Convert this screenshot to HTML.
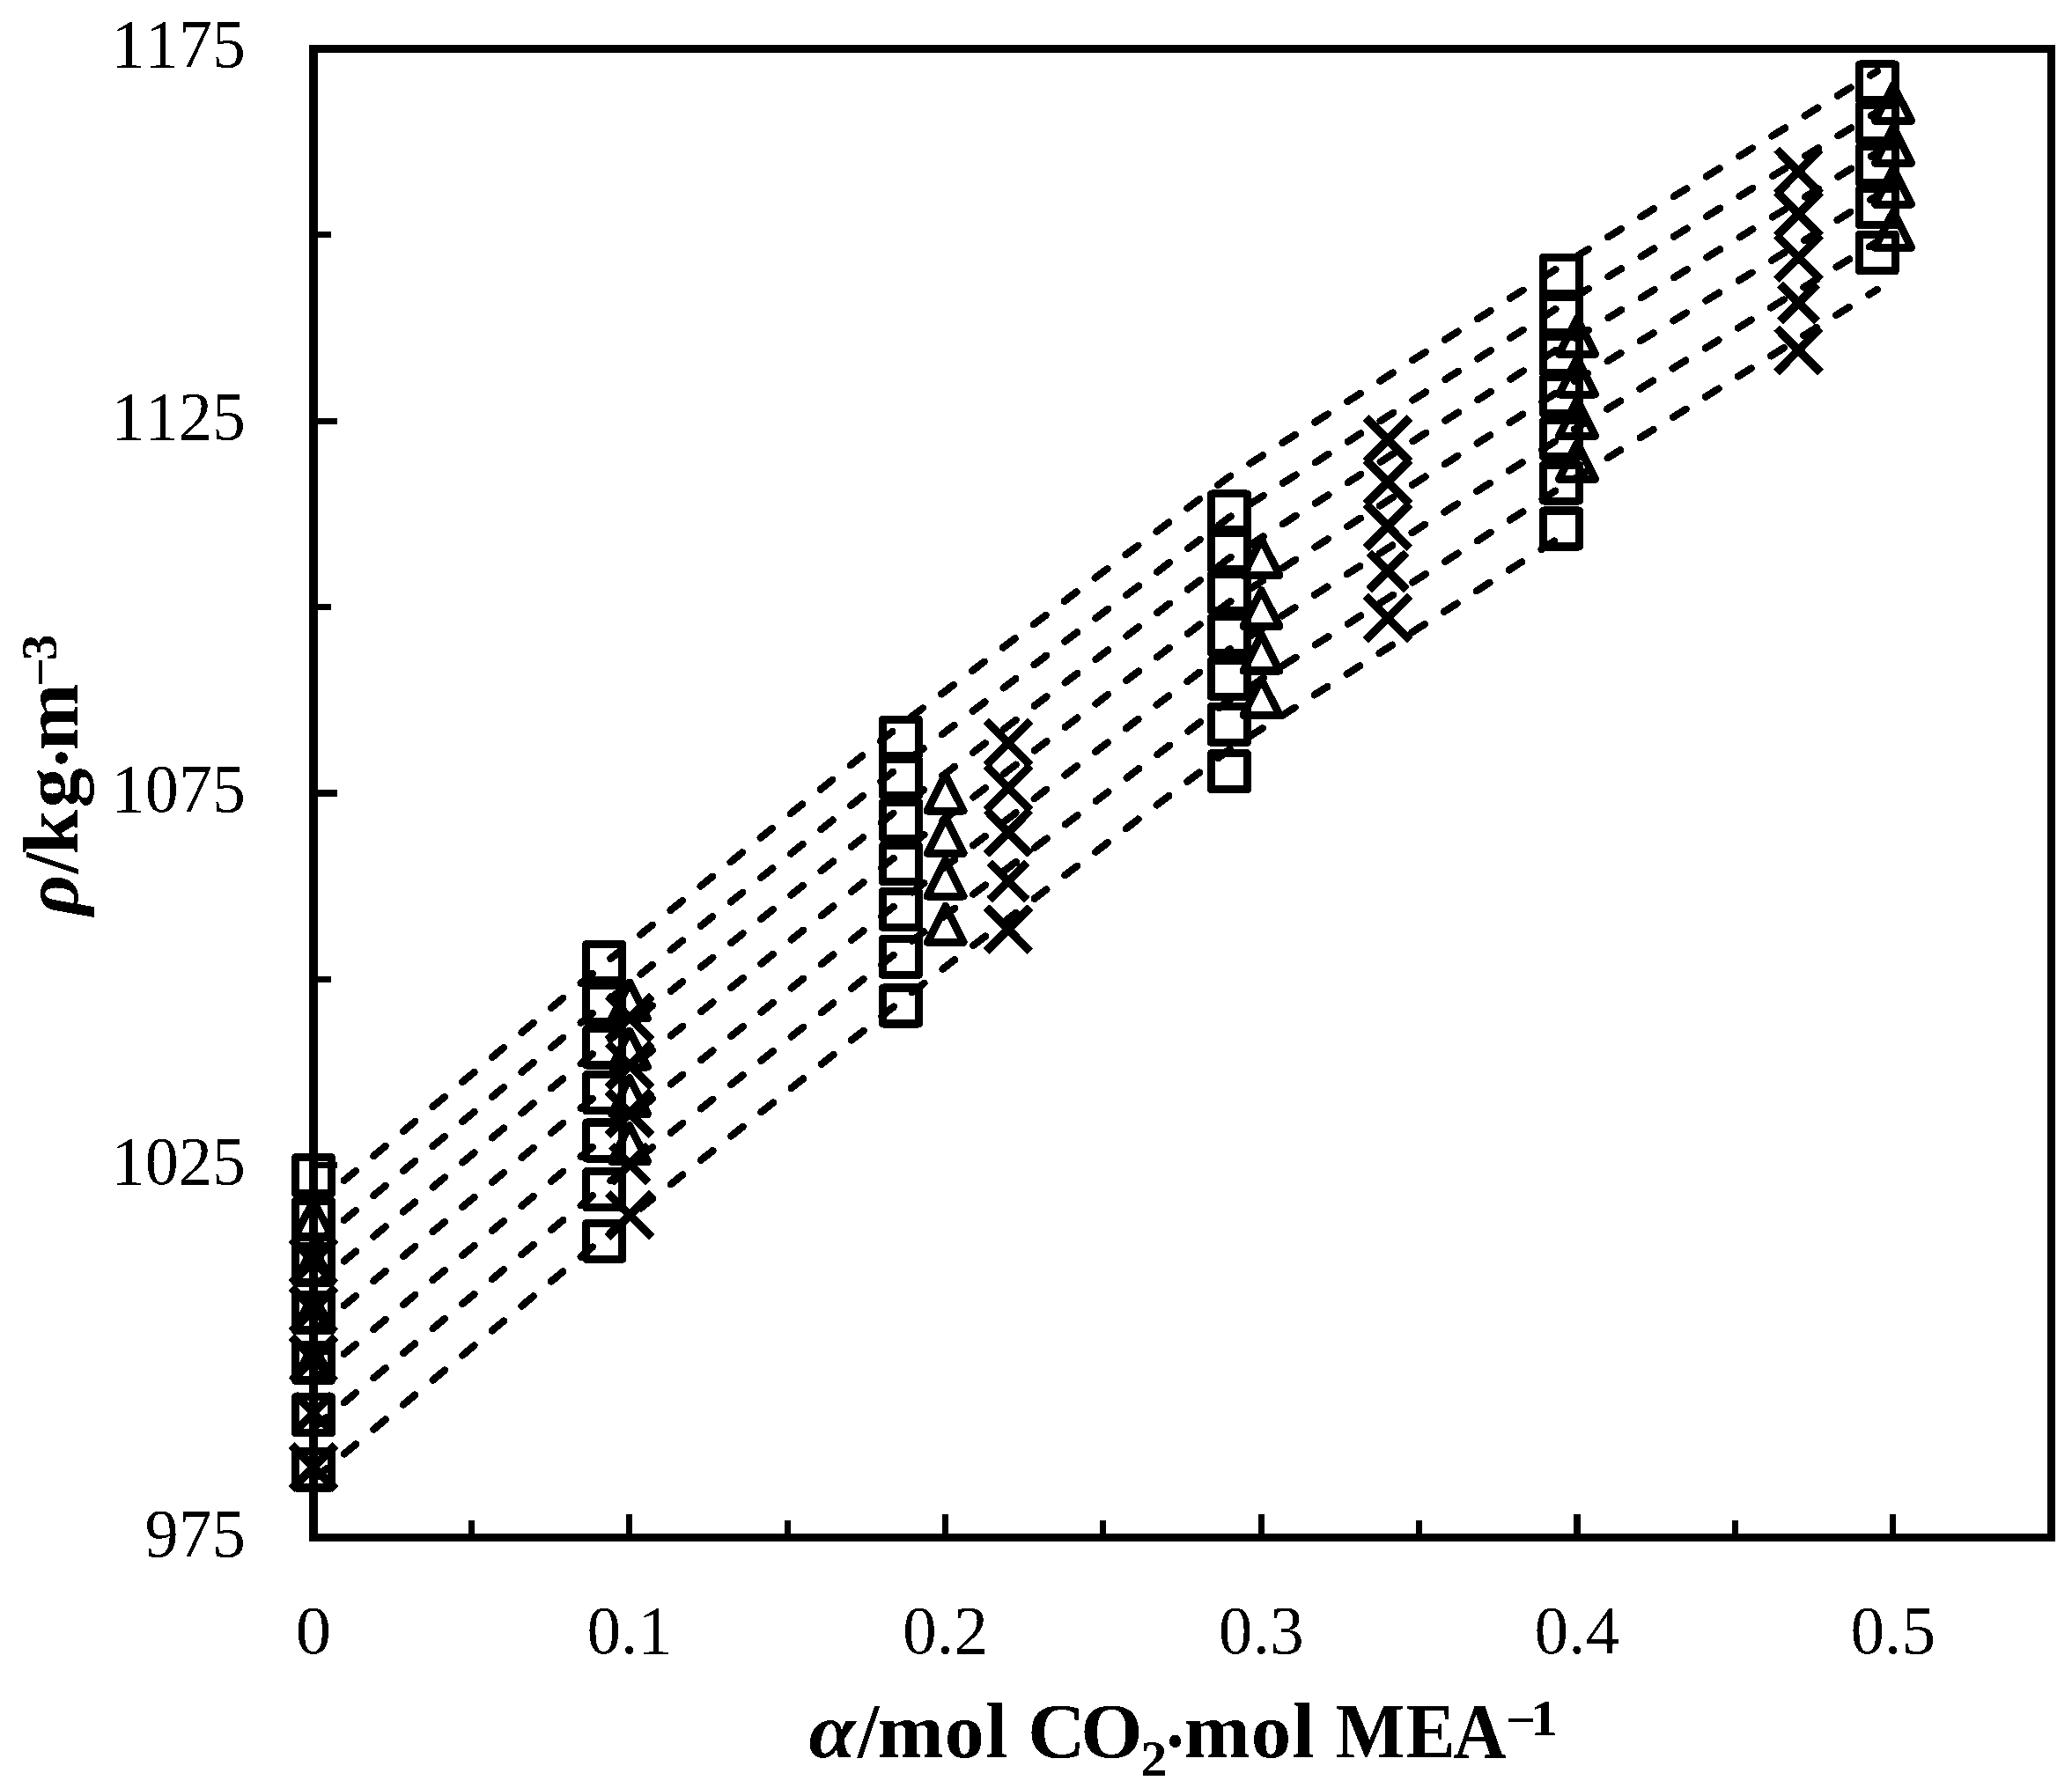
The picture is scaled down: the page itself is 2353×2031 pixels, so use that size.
<!DOCTYPE html>
<html><head><meta charset="utf-8"><title>Density plot</title>
<style>html,body{margin:0;padding:0;background:#fff}svg{display:block}</style></head>
<body>
<svg width="2353" height="2031" viewBox="0 0 2353 2031">
<defs><filter id="bw" x="0" y="0" width="100%" height="100%" filterUnits="objectBoundingBox" color-interpolation-filters="sRGB"><feComponentTransfer><feFuncR type="discrete" tableValues="0 1"/><feFuncG type="discrete" tableValues="0 1"/><feFuncB type="discrete" tableValues="0 1"/></feComponentTransfer></filter></defs>
<g filter="url(#bw)">
<rect width="2353" height="2031" fill="#fff"/>
<g fill="#000">
<rect x="351" y="51.2" width="10" height="1699.8"/>
<rect x="2325" y="51.2" width="9" height="1699.8"/>
<rect x="351" y="51.2" width="1983" height="8.6"/>
<rect x="351" y="1742" width="1983" height="9"/>
<rect x="531.88" y="1727" width="7" height="19"/>
<rect x="711.25" y="1720" width="7" height="26"/>
<rect x="890.63" y="1727" width="7" height="19"/>
<rect x="1070.00" y="1720" width="7" height="26"/>
<rect x="1249.38" y="1727" width="7" height="19"/>
<rect x="1428.75" y="1720" width="7" height="26"/>
<rect x="1608.13" y="1727" width="7" height="19"/>
<rect x="1787.50" y="1720" width="7" height="26"/>
<rect x="1966.88" y="1727" width="7" height="19"/>
<rect x="2146.25" y="1720" width="7" height="26"/>
<rect x="356" y="1531.62" width="20" height="7"/>
<rect x="356" y="1320.25" width="27" height="7"/>
<rect x="356" y="1108.88" width="20" height="7"/>
<rect x="356" y="897.50" width="27" height="7"/>
<rect x="356" y="686.12" width="20" height="7"/>
<rect x="356" y="474.75" width="27" height="7"/>
<rect x="356" y="263.38" width="20" height="7"/>
</g>
<g fill="none" stroke="#000" stroke-width="8.3" stroke-linecap="round" stroke-linejoin="round" stroke-dasharray="17.4 26.35" stroke-dashoffset="-1.5">
<path d="M356.00 1370.00 L686.25 1094.70 L1022.90 823.30 L1395.90 541.50 L1772.90 302.00 L2132.00 80.80"/>
<path d="M356.00 1415.00 L686.25 1139.70 L1022.90 869.55 L1395.90 587.75 L1772.90 347.00 L2132.00 127.05"/>
<path d="M356.00 1461.50 L686.25 1186.20 L1022.90 917.05 L1395.90 634.00 L1772.90 394.00 L2132.00 173.30"/>
<path d="M356.00 1512.00 L686.25 1236.70 L1022.90 968.30 L1395.90 684.00 L1772.90 442.60 L2132.00 222.05"/>
<path d="M356.00 1567.00 L686.25 1291.70 L1022.90 1023.30 L1395.90 737.75 L1772.90 497.00 L2132.00 274.55"/>
<path d="M356.00 1622.20 L686.25 1346.90 L1022.90 1078.30 L1395.90 795.25 L1772.90 553.25 L2132.00 328.80"/>
<path d="M356.00 1680.60 L686.25 1405.30 L1022.90 1137.05 L1395.90 851.50 L1772.90 609.50"/>
</g>
<g fill="none" stroke="#000" stroke-width="8.9" stroke-linejoin="round">
<rect x="335.45" y="1314.75" width="41.1" height="41.1"/>
<rect x="335.45" y="1364.20" width="41.1" height="41.1"/>
<rect x="335.45" y="1415.95" width="41.1" height="41.1"/>
<rect x="335.45" y="1470.20" width="41.1" height="41.1"/>
<rect x="335.45" y="1527.30" width="41.1" height="41.1"/>
<rect x="335.45" y="1586.65" width="41.1" height="41.1"/>
<rect x="335.45" y="1648.85" width="41.1" height="41.1"/>
<rect x="665.70" y="1072.45" width="41.1" height="41.1"/>
<rect x="665.70" y="1119.05" width="41.1" height="41.1"/>
<rect x="665.70" y="1168.85" width="41.1" height="41.1"/>
<rect x="665.70" y="1220.70" width="41.1" height="41.1"/>
<rect x="665.70" y="1275.05" width="41.1" height="41.1"/>
<rect x="665.70" y="1330.75" width="41.1" height="41.1"/>
<rect x="665.70" y="1389.35" width="41.1" height="41.1"/>
<rect x="1002.35" y="817.35" width="41.1" height="41.1"/>
<rect x="1002.35" y="862.85" width="41.1" height="41.1"/>
<rect x="1002.35" y="911.05" width="41.1" height="41.1"/>
<rect x="1002.35" y="960.55" width="41.1" height="41.1"/>
<rect x="1002.35" y="1012.35" width="41.1" height="41.1"/>
<rect x="1002.35" y="1066.35" width="41.1" height="41.1"/>
<rect x="1002.35" y="1121.95" width="41.1" height="41.1"/>
<rect x="1375.35" y="560.85" width="41.1" height="41.1"/>
<rect x="1375.35" y="605.35" width="41.1" height="41.1"/>
<rect x="1375.35" y="652.35" width="41.1" height="41.1"/>
<rect x="1375.35" y="700.85" width="41.1" height="41.1"/>
<rect x="1375.35" y="750.35" width="41.1" height="41.1"/>
<rect x="1375.35" y="802.35" width="41.1" height="41.1"/>
<rect x="1375.35" y="855.70" width="41.1" height="41.1"/>
<rect x="1752.35" y="292.35" width="41.1" height="41.1"/>
<rect x="1752.35" y="336.95" width="41.1" height="41.1"/>
<rect x="1752.35" y="382.35" width="41.1" height="41.1"/>
<rect x="1752.35" y="428.65" width="41.1" height="41.1"/>
<rect x="1752.35" y="477.85" width="41.1" height="41.1"/>
<rect x="1752.35" y="528.05" width="41.1" height="41.1"/>
<rect x="1752.35" y="579.95" width="41.1" height="41.1"/>
<rect x="2111.45" y="72.85" width="41.1" height="41.1"/>
<rect x="2111.45" y="118.95" width="41.1" height="41.1"/>
<rect x="2111.45" y="166.55" width="41.1" height="41.1"/>
<rect x="2111.45" y="214.75" width="41.1" height="41.1"/>
<rect x="2111.45" y="266.45" width="41.1" height="41.1"/>
</g>
<g fill="none" stroke="#000" stroke-width="8.9" stroke-linejoin="round">
<path d="M335.45 1404.50 L376.55 1404.50 L356.00 1363.50 Z"/>
<path d="M335.45 1456.50 L376.55 1456.50 L356.00 1415.50 Z"/>
<path d="M335.45 1510.50 L376.55 1510.50 L356.00 1469.50 Z"/>
<path d="M335.45 1567.50 L376.55 1567.50 L356.00 1526.50 Z"/>
<path d="M694.45 1156.90 L735.55 1156.90 L715.00 1115.90 Z"/>
<path d="M694.45 1212.10 L735.55 1212.10 L715.00 1171.10 Z"/>
<path d="M694.45 1265.50 L735.55 1265.50 L715.00 1224.50 Z"/>
<path d="M694.45 1319.50 L735.55 1319.50 L715.00 1278.50 Z"/>
<path d="M1053.15 921.10 L1094.25 921.10 L1073.70 880.10 Z"/>
<path d="M1053.15 969.25 L1094.25 969.25 L1073.70 928.25 Z"/>
<path d="M1053.15 1018.10 L1094.25 1018.10 L1073.70 977.10 Z"/>
<path d="M1053.15 1070.25 L1094.25 1070.25 L1073.70 1029.25 Z"/>
<path d="M1411.95 653.50 L1453.05 653.50 L1432.50 612.50 Z"/>
<path d="M1411.95 711.40 L1453.05 711.40 L1432.50 670.40 Z"/>
<path d="M1411.95 762.00 L1453.05 762.00 L1432.50 721.00 Z"/>
<path d="M1411.95 812.40 L1453.05 812.40 L1432.50 771.40 Z"/>
<path d="M1770.45 402.40 L1811.55 402.40 L1791.00 361.40 Z"/>
<path d="M1770.45 448.10 L1811.55 448.10 L1791.00 407.10 Z"/>
<path d="M1770.45 495.25 L1811.55 495.25 L1791.00 454.25 Z"/>
<path d="M1770.45 544.25 L1811.55 544.25 L1791.00 503.25 Z"/>
<path d="M2129.45 137.40 L2170.55 137.40 L2150.00 96.40 Z"/>
<path d="M2129.45 185.25 L2170.55 185.25 L2150.00 144.25 Z"/>
<path d="M2129.45 232.20 L2170.55 232.20 L2150.00 191.20 Z"/>
<path d="M2129.45 281.40 L2170.55 281.40 L2150.00 240.40 Z"/>
</g>
<g fill="none" stroke="#000" stroke-width="9.6" stroke-linecap="butt">
<path d="M330.90 1407.65 L381.10 1457.85 M330.90 1457.85 L381.10 1407.65"/>
<path d="M330.90 1462.70 L381.10 1512.90 M330.90 1512.90 L381.10 1462.70"/>
<path d="M330.90 1518.60 L381.10 1568.80 M330.90 1568.80 L381.10 1518.60"/>
<path d="M334.85 1583.85 L377.15 1626.15 M334.85 1626.15 L377.15 1583.85"/>
<path d="M330.90 1641.30 L381.10 1691.50 M330.90 1691.50 L381.10 1641.30"/>
<path d="M690.00 1131.00 L740.20 1181.20 M690.00 1181.20 L740.20 1131.00"/>
<path d="M690.00 1185.10 L740.20 1235.30 M690.00 1235.30 L740.20 1185.10"/>
<path d="M690.00 1239.50 L740.20 1289.70 M690.00 1289.70 L740.20 1239.50"/>
<path d="M693.95 1301.05 L736.25 1343.35 M693.95 1343.35 L736.25 1301.05"/>
<path d="M690.00 1355.20 L740.20 1405.40 M690.00 1405.40 L740.20 1355.20"/>
<path d="M1119.90 819.00 L1170.10 869.20 M1119.90 869.20 L1170.10 819.00"/>
<path d="M1119.90 869.90 L1170.10 920.10 M1119.90 920.10 L1170.10 869.90"/>
<path d="M1119.90 920.20 L1170.10 970.40 M1119.90 970.40 L1170.10 920.20"/>
<path d="M1123.85 979.65 L1166.15 1021.95 M1123.85 1021.95 L1166.15 979.65"/>
<path d="M1119.90 1030.70 L1170.10 1080.90 M1119.90 1080.90 L1170.10 1030.70"/>
<path d="M1550.90 474.50 L1601.10 524.70 M1550.90 524.70 L1601.10 474.50"/>
<path d="M1550.90 522.40 L1601.10 572.60 M1550.90 572.60 L1601.10 522.40"/>
<path d="M1550.90 572.70 L1601.10 622.90 M1550.90 622.90 L1601.10 572.70"/>
<path d="M1554.85 627.55 L1597.15 669.85 M1554.85 669.85 L1597.15 627.55"/>
<path d="M1550.90 677.00 L1601.10 727.20 M1550.90 727.20 L1601.10 677.00"/>
<path d="M2017.40 169.60 L2067.60 219.80 M2017.40 219.80 L2067.60 169.60"/>
<path d="M2017.40 217.90 L2067.60 268.10 M2017.40 268.10 L2067.60 217.90"/>
<path d="M2017.40 267.40 L2067.60 317.60 M2017.40 317.60 L2067.60 267.40"/>
<path d="M2021.35 322.95 L2063.65 365.25 M2021.35 365.25 L2063.65 322.95"/>
<path d="M2017.40 372.70 L2067.60 422.90 M2017.40 422.90 L2067.60 372.70"/>
</g>
<g font-family="'Liberation Serif', serif" font-size="79" fill="#000" style="font-kerning:none">
<text x="279" y="76.1" text-anchor="end" textLength="152.5" lengthAdjust="spacingAndGlyphs">1175</text>
<text x="279" y="499.0" text-anchor="end" textLength="152.5" lengthAdjust="spacingAndGlyphs">1125</text>
<text x="279" y="921.9" text-anchor="end" textLength="152.5" lengthAdjust="spacingAndGlyphs">1075</text>
<text x="279" y="1344.8" text-anchor="end" textLength="152.5" lengthAdjust="spacingAndGlyphs">1025</text>
<text x="279" y="1768.1" text-anchor="end" textLength="114.6" lengthAdjust="spacingAndGlyphs">975</text>
<text x="356.0" y="1877.9" text-anchor="middle" textLength="40.8" lengthAdjust="spacingAndGlyphs">0</text>
<text x="714.8" y="1877.9" text-anchor="middle" textLength="96.8" lengthAdjust="spacingAndGlyphs">0.1</text>
<text x="1073.5" y="1877.9" text-anchor="middle" textLength="96.8" lengthAdjust="spacingAndGlyphs">0.2</text>
<text x="1432.2" y="1877.9" text-anchor="middle" textLength="96.8" lengthAdjust="spacingAndGlyphs">0.3</text>
<text x="1791.0" y="1877.9" text-anchor="middle" textLength="96.8" lengthAdjust="spacingAndGlyphs">0.4</text>
<text x="2149.8" y="1877.9" text-anchor="middle" textLength="96.8" lengthAdjust="spacingAndGlyphs">0.5</text>
</g>
<g font-family="'Liberation Serif', serif" font-size="88" font-weight="bold" fill="#000" id="xt">
<text transform="scale(1.0878,1)" x="844.32" y="1995.9" font-style="italic">α</text>
<text transform="scale(1.0,1)" x="973.8" y="1995.9">/</text>
<text transform="scale(1.0248,1)" x="972.61 1046.74 1092.2" y="1995.9">mol</text>
<text transform="scale(1.0319,1)" x="1130.95 1189.18" y="1995.9">CO</text>
<text transform="scale(1.0417,1)" x="1243.6" y="2016.75" font-size="57">2</text>
<text transform="scale(0.9429,1)" x="1400.8" y="2006.7">·</text>
<text transform="scale(1.0333,1)" x="1300.85 1375.03 1420.15" y="1995.9">mol</text>
<text transform="scale(0.9477,1)" x="1600.42 1685.2 1741.41" y="1995.9">MEA</text>
<text transform="scale(1.0702,1)" x="1597.65 1624.27" y="1970.9" font-size="57" dy="2.15 -2.15">−1</text>
</g>
<g font-family="'Liberation Serif', serif" font-size="88" font-weight="bold" fill="#000" id="yt" transform="translate(88,1044) rotate(-90)">
<text transform="scale(1.0182,1)" x="4.16" y="0" font-style="italic">ρ</text>
<text transform="scale(0.9923,1)" x="51.69" y="0">/</text>
<text transform="scale(1.0284,1)" x="71.59 122.97" y="0">kg</text>
<text transform="scale(0.9357,1)" x="180.95" y="10.8">·</text>
<text transform="scale(1.0357,1)" x="185.21" y="0">m</text>
<text transform="scale(1.049,1)" x="251.28 280.09" y="-23.9" font-size="57" dy="1 -1">−3</text>
</g>
</g>
</svg>
</body></html>
